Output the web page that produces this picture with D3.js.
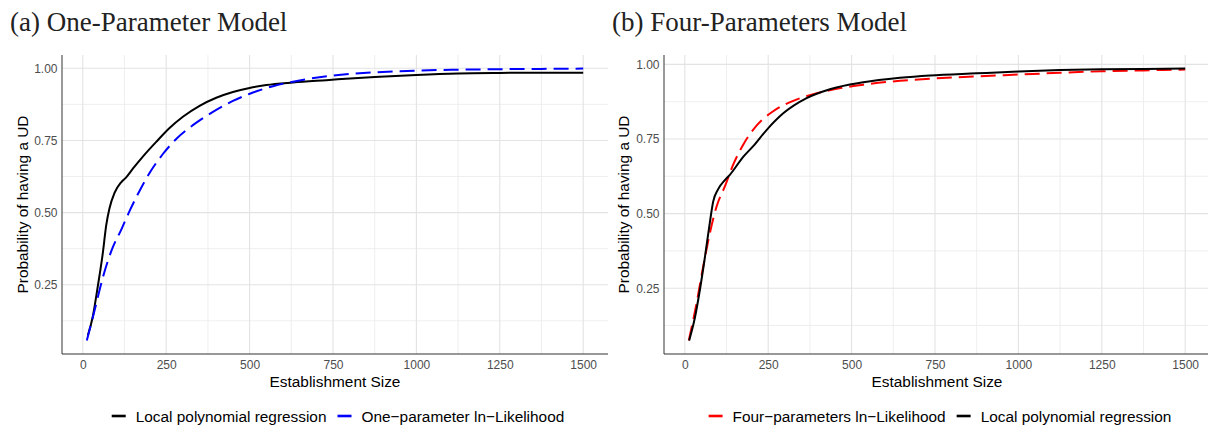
<!DOCTYPE html>
<html>
<head>
<meta charset="utf-8">
<script src="https://cdn.jsdelivr.net/npm/d3@7"></script>
<style>
  body { margin: 0; background: #fff; }
  svg { display: block; }
</style>
</head>
<body>
<svg id="chart" width="1208" height="425"></svg>
<script>
// values
const xTicks = [0, 250, 500, 750, 1000, 1250, 1500];
const xMinor = [125, 375, 625, 875, 1125, 1375];
const yTicks = [0.25, 0.50, 0.75, 1.00];
const yMinor = [0.125, 0.375, 0.625, 0.875];

// (a) local polynomial regression
const locAX = [15, 30, 45, 60, 70, 80, 95, 115, 130, 150, 180, 220, 260, 300, 350, 400, 450, 500, 550, 630, 730, 875, 1000, 1125, 1250, 1375, 1500];
const locAY = [0.074, 0.14, 0.245, 0.36, 0.455, 0.515, 0.568, 0.605, 0.622, 0.652, 0.694, 0.745, 0.793, 0.832, 0.870, 0.898, 0.918, 0.932, 0.942, 0.951, 0.959, 0.970, 0.977, 0.982, 0.984, 0.985, 0.985];
// (a) one-parameter ln-likelihood
const oneX = [12, 35, 60, 90, 115, 140, 170, 200, 240, 280, 330, 390, 450, 510, 570, 650, 750, 875, 1000, 1125, 1250, 1375, 1500];
const oneY = [0.057, 0.16, 0.275, 0.38, 0.44, 0.505, 0.575, 0.637, 0.703, 0.755, 0.803, 0.849, 0.887, 0.916, 0.938, 0.958, 0.975, 0.986, 0.992, 0.995, 0.997, 0.998, 0.999];

// (b) local polynomial regression
const locBX = [13, 30, 45, 60, 75, 85, 100, 120, 135, 175, 205, 245, 295, 365, 435, 535, 645, 735, 875, 1000, 1125, 1250, 1375, 1500];
const locBY = [0.075, 0.150, 0.243, 0.352, 0.47, 0.54, 0.582, 0.612, 0.630, 0.690, 0.726, 0.780, 0.836, 0.887, 0.917, 0.940, 0.955, 0.963, 0.970, 0.976, 0.981, 0.984, 0.985, 0.986];
// (b) four-parameters ln-likelihood
const fourX = [12, 35, 55, 75, 95, 120, 145, 175, 215, 265, 325, 385, 455, 535, 645, 735, 875, 1000, 1125, 1250, 1375, 1500];
const fourY = [0.075, 0.198, 0.322, 0.434, 0.523, 0.591, 0.664, 0.731, 0.795, 0.843, 0.878, 0.900, 0.918, 0.932, 0.945, 0.952, 0.960, 0.966, 0.972, 0.977, 0.980, 0.983];

const svg = d3.select("#chart");
const sans = "'Liberation Sans', Arial, sans-serif";

function zip(xs, ys) { return xs.map((x, i) => ({ x: x, y: ys[i] })); }

// ggplot style 5% expansion
function expand(ext) {
  const d = (ext[1] - ext[0]) * 0.05;
  return [ext[0] - d, ext[1] + d];
}

function drawPanel(p) {
  const g = svg.append("g");
  const all = p.series.flatMap(s => s.data);

  const x = d3.scaleLinear().domain(expand(d3.extent(all, d => d.x))).range([p.left, p.right]);
  const y = d3.scaleLinear().domain(expand(d3.extent(all, d => d.y))).range([p.bottom, p.top]);

  // grid
  g.selectAll(".vminor").data(xMinor).enter().append("line")
    .attr("x1", d => x(d)).attr("x2", d => x(d))
    .attr("y1", p.top).attr("y2", p.bottom)
    .attr("stroke", "#ebebeb").attr("stroke-width", 0.8);
  g.selectAll(".hminor").data(yMinor).enter().append("line")
    .attr("x1", p.left).attr("x2", p.right)
    .attr("y1", d => y(d)).attr("y2", d => y(d))
    .attr("stroke", "#ebebeb").attr("stroke-width", 0.8);
  g.selectAll(".vmajor").data(xTicks).enter().append("line")
    .attr("x1", d => x(d)).attr("x2", d => x(d))
    .attr("y1", p.top).attr("y2", p.bottom)
    .attr("stroke", "#e3e3e3").attr("stroke-width", 1.1);
  g.selectAll(".hmajor").data(yTicks).enter().append("line")
    .attr("x1", p.left).attr("x2", p.right)
    .attr("y1", d => y(d)).attr("y2", d => y(d))
    .attr("stroke", "#e3e3e3").attr("stroke-width", 1.1);

  // axes (labels only, no tick marks)
  const xAxis = g.append("g").attr("transform", `translate(0,${p.bottom})`)
    .call(d3.axisBottom(x).tickValues(xTicks).tickFormat(d3.format("d")).tickSize(0).tickPadding(6.5));
  const yAxis = g.append("g").attr("transform", `translate(${p.left},0)`)
    .call(d3.axisLeft(y).tickValues(yTicks).tickFormat(d3.format(".2f")).tickSize(0).tickPadding(4.5));
  [xAxis, yAxis].forEach(a => {
    a.select(".domain").remove();
    a.selectAll("text").attr("fill", "#4d4d4d").style("font-family", sans).style("font-size", "12px");
  });

  g.append("line").attr("x1", p.left).attr("x2", p.left).attr("y1", p.top).attr("y2", p.bottom)
    .attr("stroke", "#555").attr("stroke-width", 1.2);
  g.append("line").attr("x1", p.left).attr("x2", p.right).attr("y1", p.bottom).attr("y2", p.bottom)
    .attr("stroke", "#333").attr("stroke-width", 1.2);

  // curves
  const line = d3.line().x(d => x(d.x)).y(d => y(d.y)).curve(d3.curveMonotoneX);
  p.series.forEach(s => {
    g.append("path").datum(s.data)
      .attr("d", line)
      .attr("fill", "none")
      .attr("stroke", s.color)
      .attr("stroke-width", 2)
      .attr("stroke-dasharray", s.dashed ? "15,7" : null)
      .attr("stroke-linejoin", "round");
  });

  // titles
  g.append("text").attr("x", p.titleX).attr("y", 30.5)
    .style("font-family", "'Liberation Serif', 'Times New Roman', serif").style("font-size", "27px")
    .attr("fill", "#222").text(p.title);
  g.append("text")
    .attr("transform", `translate(${p.yLabelX},${(p.top + p.bottom) / 2}) rotate(-90)`)
    .attr("text-anchor", "middle").attr("dominant-baseline", "central")
    .style("font-family", sans).style("font-size", "15.4px").attr("fill", "#000")
    .text("Probability of having a UD");
  g.append("text").attr("x", (p.left + p.right) / 2).attr("y", 386.5)
    .attr("text-anchor", "middle")
    .style("font-family", sans).style("font-size", "15.4px").attr("fill", "#000")
    .text("Establishment Size");

  // legend, centred under the panel
  const leg = g.append("g");
  let cx = 0;
  p.legend.forEach(s => {
    leg.append("line").attr("x1", cx).attr("x2", cx + 14).attr("y1", 416).attr("y2", 416)
      .attr("stroke", s.color).attr("stroke-width", 2.6);
    const t = leg.append("text").attr("x", cx + 24).attr("y", 421.5)
      .style("font-family", sans).style("font-size", "15.4px").attr("fill", "#000")
      .text(s.label);
    cx += 24 + t.node().getComputedTextLength() + 11;
  });
  const legW = cx - 11;
  leg.attr("transform", `translate(${(p.left + p.right) / 2 - legW / 2 + 3},0)`);
}

const locLabel = "Local polynomial regression";

drawPanel({
  left: 62, right: 608, top: 55, bottom: 354,
  titleX: 10, yLabelX: 22,
  title: "(a) One-Parameter Model",
  series: [
    { data: zip(locAX, locAY), color: "#000000", dashed: false },
    { data: zip(oneX, oneY), color: "#0000ff", dashed: true }
  ],
  legend: [
    { color: "#000000", label: locLabel },
    { color: "#0000ff", label: "One\u2212parameter ln\u2212Likelihood" }
  ]
});

drawPanel({
  left: 664, right: 1210, top: 55, bottom: 354,
  titleX: 612, yLabelX: 623.5,
  title: "(b) Four-Parameters Model",
  series: [
    { data: zip(fourX, fourY), color: "#ff0000", dashed: true },
    { data: zip(locBX, locBY), color: "#000000", dashed: false }
  ],
  legend: [
    { color: "#ff0000", label: "Four\u2212parameters ln\u2212Likelihood" },
    { color: "#000000", label: locLabel }
  ]
});
</script>
</body>
</html>
